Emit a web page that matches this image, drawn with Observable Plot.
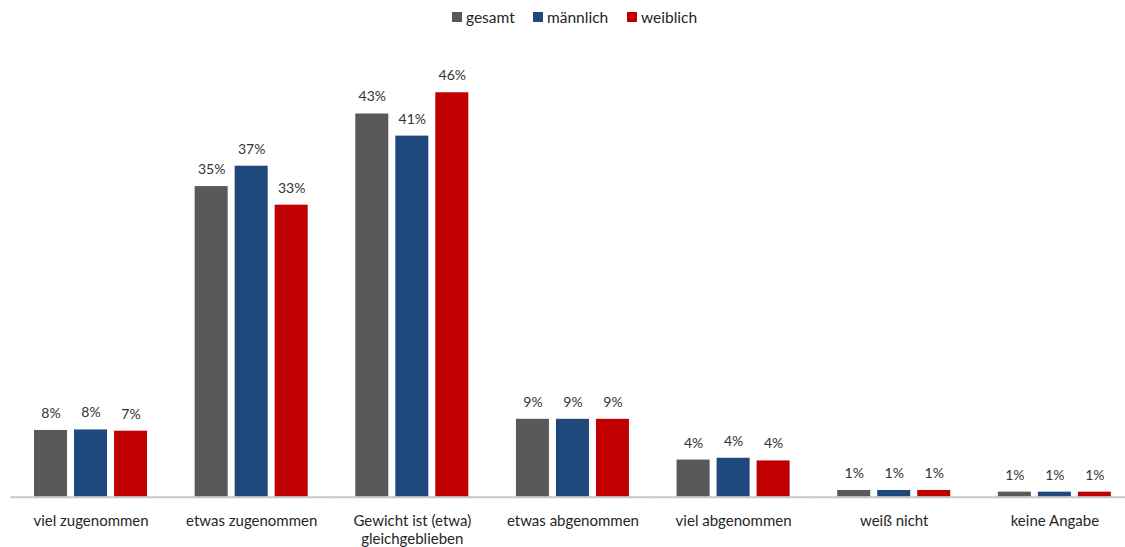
<!DOCTYPE html>
<html>
<head>
<meta charset="utf-8">
<script src="https://cdn.jsdelivr.net/npm/d3@7"></script>
<script src="https://cdn.jsdelivr.net/npm/@observablehq/plot@0.6"></script>
<style>
  html, body { margin: 0; padding: 0; background: #fff; }
  body { width: 1125px; height: 547px; overflow: hidden; font-family: Lato, "Liberation Sans", sans-serif; color: #262626; }
  #legend { height: 34px; position: relative; font-size: 15.5px; }
  #legend .item { position: absolute; top: 8px; display: flex; align-items: center; white-space: nowrap; }
  #legend .sw { width: 10px; height: 10px; margin-right: 4px; }
</style>
</head>
<body>
<div id="legend"></div>
<div id="chart"></div>
<script>
const categories = ["viel zugenommen", "etwas zugenommen", "Gewicht ist (etwa)\ngleichgeblieben", "etwas abgenommen", "viel abgenommen", "weiß nicht", "keine Angabe"];
const series = ["gesamt", "männlich", "weiblich"];
const colors = ["#595959", "#1f497d", "#c00000"];
const gesamt    = [7.54, 35.1, 43.3, 8.8, 4.2, 0.76, 0.57];
const maennlich = [7.6, 37.4, 40.8, 8.8, 4.4, 0.76, 0.57];
const weiblich  = [7.46, 33.0, 45.7, 8.8, 4.1, 0.76, 0.57];

const values = [gesamt, maennlich, weiblich];
const data = [];
categories.forEach((c, i) => series.forEach((s, j) => data.push({cat: c, series: s, value: values[j][i]})));

// legend
const legendX = [452, 533, 627];
const legend = document.getElementById("legend");
series.forEach((s, j) => {
  const it = document.createElement("div");
  it.className = "item";
  it.style.left = legendX[j] + "px";
  it.innerHTML = `<span class="sw" style="background:${colors[j]}"></span><span>${s}</span>`;
  legend.appendChild(it);
});

const chart = Plot.plot({
  width: 1125,
  height: 513,
  marginLeft: 10.2,
  marginRight: -9.7,
  marginTop: 20.2,
  marginBottom: 50.3,
  style: {fontFamily: "Lato, 'Liberation Sans', sans-serif", color: "#262626", background: "#fff"},
  fx: {domain: categories, padding: 0, round: false, label: null},
  x: {domain: series, paddingInner: 0.175, paddingOuter: 0.595, round: false, axis: null},
  y: {domain: [0, 50], axis: null},
  color: {domain: series, range: colors},
  marks: [
    Plot.barY(data, {fx: "cat", x: "series", y: "value", fill: "series"}),
    Plot.ruleY([0], {stroke: "#c8c8c8", strokeWidth: 2}),
    Plot.text(data, {fx: "cat", x: "series", y: "value", text: d => Math.round(d.value) + "%", dy: -17, fontSize: 14, fill: "#333"}),
    Plot.axisFx({anchor: "bottom", tickSize: 0, tickPadding: 16.5, fontSize: 15, lineHeight: 1.2, label: null})
  ]
});
document.getElementById("chart").appendChild(chart);
</script>
</body>
</html>
